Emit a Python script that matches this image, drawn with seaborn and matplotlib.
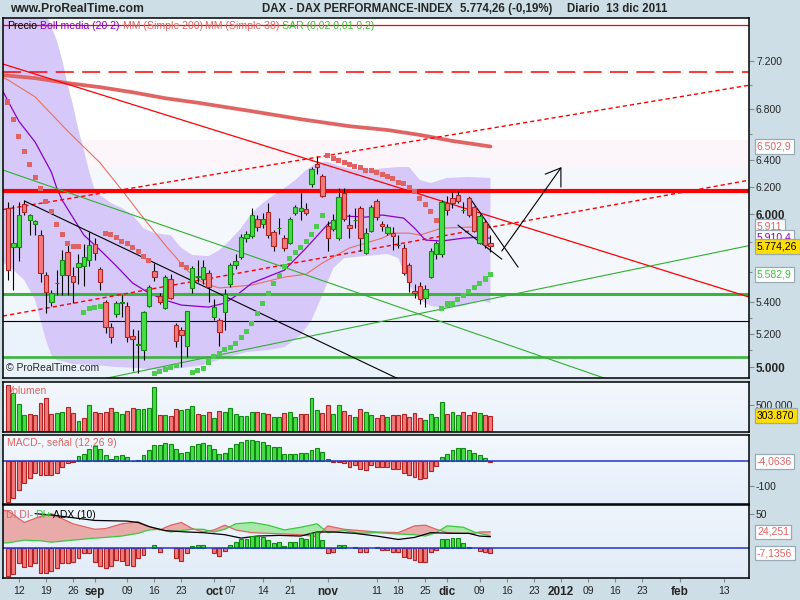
import numpy as np
import pandas as pd
import matplotlib
matplotlib.use("Agg")
import matplotlib.pyplot as plt
import matplotlib.transforms as mtransforms
from matplotlib.patches import Rectangle
from matplotlib.colors import LinearSegmentedColormap
from matplotlib.ticker import FixedLocator, NullFormatter
import seaborn as sns

sns.set_style("white")
plt.rcParams["font.family"] = ["Liberation Sans", "DejaVu Sans"]
plt.rcParams["lines.scale_dashes"] = False

# ---------------------------------------------------------------
# Daily DAX bars: index 0 = 10 ago 2011 ... 89 = 13 dic 2011
# ---------------------------------------------------------------
opens = [6040, 5770, 5770, 6070, 5960, 5930, 5851, 5580, 5403, 5525,
         5579, 5735, 5570, 5633, 5640, 5680, 5790, 5620, 5400, 5245,
         5325, 5398, 5375, 5190, 5130, 5102, 5378, 5605, 5440, 5365,
         5555, 5256, 5225, 5126, 5494, 5568, 5555, 5590, 5307, 5288,
         5340, 5520, 5646, 5700, 5830, 5844, 5964, 5928, 6015, 5875,
         5898, 5830, 5796, 6008, 6022, 6036, 6218, 6368, 6278, 5914,
         5893, 5830, 6152, 5921, 5955, 6043, 5728, 5880, 6093, 5928,
         5865, 5865, 5780, 5762, 5646, 5475, 5506, 5430, 5565, 5721,
         5721, 6079, 6115, 6137, 6028, 6115, 6050, 5796, 5943, 5796]
highs = [6090, 6065, 6090, 6100, 6000, 5960, 5887, 5600, 5480, 5612,
         5748, 5800, 5630, 5720, 5790, 5870, 5830, 5630, 5415, 5270,
         5410, 5450, 5400, 5230, 5225, 5345, 5513, 5660, 5460, 5580,
         5585, 5270, 5245, 5345, 5640, 5680, 5680, 5610, 5420, 5300,
         5490, 5660, 5720, 5860, 5880, 6043, 5990, 6008, 6079, 5890,
         5971, 5850, 5980, 6065, 6152, 6080, 6345, 6430, 6290, 5950,
         6000, 6189, 6190, 6000, 6040, 6060, 5900, 6065, 6110, 5950,
         5930, 5910, 5850, 5790, 5660, 5520, 5530, 5513, 5760, 5810,
         6100, 6130, 6160, 6170, 6090, 6122, 6060, 6000, 5960, 5851]
lows = [5546, 5481, 5673, 5990, 5851, 5851, 5530, 5330, 5380, 5448,
        5448, 5448, 5396, 5520, 5510, 5640, 5680, 5481, 5205, 5145,
        5310, 5310, 5150, 4975, 4965, 5042, 5370, 5540, 5390, 5360,
        5420, 5120, 5000, 5060, 5460, 5530, 5520, 5400, 5290, 5125,
        5225, 5500, 5620, 5690, 5800, 5830, 5880, 5900, 5830, 5740,
        5860, 5740, 5790, 5990, 5957, 5990, 6200, 6290, 6120, 5740,
        5880, 5820, 5950, 5830, 5900, 5740, 5720, 5870, 5960, 5880,
        5850, 5750, 5760, 5580, 5470, 5430, 5390, 5370, 5560, 5690,
        5700, 5990, 6040, 6080, 6010, 5980, 5870, 5790, 5760, 5734]
closes = [5612, 5797, 5993, 6015, 5993, 5950, 5590, 5470, 5460, 5528,
          5680, 5579, 5533, 5660, 5700, 5782, 5728, 5533, 5245, 5180,
          5395, 5402, 5180, 5170, 5140, 5340, 5500, 5567, 5405, 5565,
          5430, 5160, 5194, 5345, 5625, 5572, 5633, 5500, 5370, 5212,
          5455, 5646, 5673, 5840, 5858, 5993, 5910, 5964, 5851, 5775,
          5902, 5762, 5964, 6050, 6043, 6008, 6330, 6345, 6130, 5830,
          5957, 6122, 5964, 5900, 5960, 5830, 5865, 6050, 5978, 5914,
          5907, 5844, 5784, 5590, 5533, 5462, 5422, 5488, 5741, 5796,
          6086, 6029, 6079, 6093, 6032, 5993, 5880, 5986, 5782, 5774.26]

# Parabolic SAR (0,02 0,01 0,2)
sar = [6857, 6719, 6584, 6467, 6362, 6264, 6182, 6093, 6015, 5928,
       5858, 5796, 5775, 5775, 5338, 5358, 5370, 5377, 5865, 5858,
       5837, 5810, 5796, 5768, 5741, 5707, 5680, 4964, 4976, 4988,
       5000, 5012, 5653, 5632, 4970, 4982, 4994, 5030, 5066, 5084,
       5108, 5120, 5145, 5182, 5219, 5269, 5332, 5396, 5461, 5526,
       5579, 5639, 5693, 5728, 5768, 5810, 5858, 5914, 5986, 6437,
       6414, 6392, 6377, 6362, 6347, 6339, 6323, 6316, 6301, 6286,
       6271, 6256, 6233, 6219, 6196, 6160, 6115, 6072, 6015, 5957,
       5364, 5390, 5396, 5422, 5448, 5474, 5500, 5526, 5553, 5582.9]

# Bollinger (20 2): upper, lower and middle line
boll_up_idx = [-1, 0, 4, 7, 8, 9, 10, 11, 12, 13, 14, 15, 16, 17, 19, 21, 23, 25,
               27, 30, 32, 34, 37, 39, 41, 43, 45, 47, 49, 51, 53, 55, 57, 59,
               61, 64, 68, 72, 74, 76, 78, 81, 85, 89]
boll_up = [8500, 8400, 8100, 7620, 7500, 7380, 7210, 7000, 6830, 6632, 6475, 6308,
           6174, 6137, 6079, 6043, 5993, 5900, 5865, 5851, 5762, 5714, 5707, 5748,
           5817, 5900, 6008, 6079, 6137, 6189, 6248, 6323, 6377, 6385, 6354, 6323,
           6331, 6346, 6346, 6248, 6226, 6264, 6271, 6264]
boll_lo_idx = [-1, 0, 3, 5, 6, 7, 8, 9, 12, 16, 20, 24, 28, 32, 36, 40, 44, 48, 51,
               54, 56, 58, 60, 62, 66, 70, 72, 74, 76, 78, 81, 84, 87, 89]
boll_lo = [5660, 5646, 5546, 5415, 5288, 5163, 5072, 5042, 5018, 5012, 5000, 4994,
           4982, 4994, 5012, 5054, 5090, 5102, 5120, 5194, 5288, 5448, 5626, 5693,
           5707, 5721, 5693, 5513, 5415, 5377, 5364, 5377, 5415, 5396]
boll_mid_idx = [-1, 0, 2, 5, 8, 9, 10, 14, 17, 20, 23, 26, 29, 32, 37, 40, 42, 45,
                51, 55, 59, 62, 66, 69, 73, 75, 77, 80, 84, 87, 89]
boll_mid = [6950, 6865, 6702, 6538, 6308, 6189, 6100, 5851, 5748, 5639, 5526, 5461,
            5415, 5383, 5370, 5396, 5442, 5526, 5612, 5762, 5928, 5986, 5978, 5993,
            5971, 5900, 5817, 5810, 5830, 5837, 5830]

# Moving averages
ma38_idx = [-1, 0, 5, 11, 17, 21, 25, 29, 33, 36, 39, 45, 51, 55, 58, 63, 69, 71,
            74, 76, 80, 85, 89]
ma38 = [7060, 7040, 6899, 6624, 6377, 6174, 5971, 5782, 5612, 5526, 5494, 5513,
        5566, 5585, 5660, 5762, 5830, 5865, 5865, 5851, 5900, 5907, 5911]
ma200_idx = [-1, 0, 5, 11, 17, 23, 29, 35, 45, 54, 63, 70, 76, 82, 89]
ma200 = [7080, 7076, 7055, 7013, 6979, 6937, 6888, 6851, 6782, 6718, 6662, 6632,
         6593, 6546, 6502.9]

# Hand drawn support / resistance levels and trend lines (day, price anchors)
level_red_thick = 6170
level_red_dash = 7104
level_red_top = 7516
level_green_thick = 5455
level_green_low = 5062
level_black = 5281
trend_red = [(0, 7161), (130, 5509)]
trend_red_dash_hi = [(0, 6038), (130, 6945)]
trend_red_dash_lo = [(0, 5319), (130, 6198)]
trend_green_down = [(0, 6310), (100, 5046)]
trend_green_up = [(20, 4946), (130, 5727)]
trend_black = [(3.1, 6093), (72, 4930)]
sketch_lines = [[(85.1, 6122), (94.1, 5632)],
                [(83.0, 5921), (91.1, 5686)]]
sketch_arrow = [(91.1, 5741), (102.0, 6339)]
sketch_head = [(99.1, 6292), (102.0, 6339), (102.0, 6196)]

# Volume (shares) and bar colour as shown
volumes_k = [875, 722, 518, 320, 333, 320, 537, 629, 333, 352,
             370, 463, 352, 209, 259, 492, 370, 352, 370, 444,
             370, 333, 394, 444, 426, 426, 444, 833, 307, 307,
             289, 431, 413, 426, 474, 333, 320, 370, 259, 394,
             370, 444, 333, 300, 300, 370, 370, 352, 333, 285,
             285, 352, 370, 285, 333, 333, 629, 413, 352, 492,
             333, 492, 394, 320, 285, 426, 370, 320, 259, 307,
             285, 307, 307, 333, 278, 352, 259, 228, 333, 278,
             555, 333, 370, 307, 370, 320, 370, 352, 320, 303.87]
vol_dir = ("rgggrrrrrg" "grrgrgrrrr" "ggrrggggrg" "rrgggrgrgr" "ggggggrgrg"
           "grggrrggrr" "ggrrgrggrr" "grrrrrrggg" "grggrrrgrr")

# MACD (12,26 9)
macd = [-164, -148, -117, -90, -68, -47, -55, -57, -57, -47,
        -24, -10, -4, 19, 29, 47, 59, 47, 25, 9,
        19, 23, 15, 1, 5, 23, 43, 63, 63, 73,
        69, 47, 33, 36, 59, 67, 72, 65, 47, 29,
        33, 52, 69, 76, 85, 85, 79, 76, 63, 56,
        56, 29, 29, 29, 32, 32, 43, 52, 36, 9,
        -6, -6, -10, -24, -17, -33, -36, -17, -24, -24,
        -24, -31, -33, -47, -55, -64, -71, -68, -41, -21,
        14, 29, 43, 52, 52, 43, 33, 25, 11, -4.0636]

# DMI (10): DI+ minus DI- histogram, DI lines and ADX
dmi_hist = [-40.7, -37.8, -22, -27, -26, -21, -36, -37, -34, -29,
            -22, -22, -20, -15, -7, -7, -20, -26, -29, -26,
            -17, -18, -25, -26, -15, -10, 0, 5, -5, 0,
            0, -15, -18, -7, 3, 5, 5, 0, -7, -11,
            -4, 5, 10, 13, 13, 18, 18, 17, 12, 8,
            10, 3, 10, 10, 15, 13, 22, 24, 12, -7,
            -5, 5, 5, 0, 2, -5, -6, 0, 2, -3,
            -3, -6, -6, -13, -15, -17, -20, -20, -6, -3,
            13, 13, 15, 15, 8, 2, 0, -4, -5, -7.1356]
di_idx = [-1, 0, 3, 6, 8, 12, 16, 18, 21, 24, 26, 28, 30, 32, 34, 36, 38, 40, 42,
          45, 48, 51, 54, 57, 59, 62, 65, 68, 72, 75, 77, 79, 81, 84, 86, 87, 89]
di_minus = [56, 55, 38, 47, 51, 36, 28, 29, 36, 39, 32, 27, 34, 38, 29, 24, 27, 34,
            27, 23, 22, 21, 20, 17, 33, 28, 26, 24, 23, 33, 34, 28, 23, 22, 22, 24,
            24.251]
di_plus = [8, 8, 12, 11, 9, 12, 15, 16, 18, 22, 27, 28, 24, 26, 28, 28, 24, 28, 36,
           38, 34, 27, 31, 36, 23, 26, 22, 23, 21, 20, 18, 23, 33, 31, 24, 22, 18]
adx_idx = [5, 8, 16, 22, 24, 26, 29, 33, 36, 40, 43, 46, 50, 54, 57, 60, 64, 68, 72,
           75, 78, 82, 85, 87, 89]
adx = [51, 49, 41, 40, 38, 32, 26, 24, 23, 20, 15, 18, 19, 18, 24, 24, 22, 18, 13,
       16, 23, 22, 22, 18, 17]

# Date axis (trading-day index of each label)
tick_pos = [2, 7, 12, 16, 22, 27, 32, 38, 41, 47, 52, 59, 68, 72, 77, 81, 87, 92,
            97, 102, 107, 112, 117, 124, 132]
tick_lab = ["12", "19", "26", "sep", "09", "16", "23", "oct", "07", "14", "21",
            "nov", "11", "18", "25", "dic", "09", "16", "23", "2012", "09", "16",
            "23", "feb", "13"]
month_lab = {"sep", "oct", "nov", "dic", "2012", "feb"}

# ---------------------------------------------------------------
BG = "#cddee6"
RED, RED_E = "#f27a7a", "#b02424"
GRN, GRN_E = "#46de46", "#128a12"
SALMON = "#e06464"
PURPLE = "#8a00c8"
W, H = 800, 600
XMIN, XMAX = -0.92, 136.7

df = pd.DataFrame({"open": opens, "high": highs, "low": lows, "close": closes,
                   "sar": sar, "vol": np.array(volumes_k) * 1000,
                   "macd": macd, "dmi": dmi_hist})
df["day"] = np.arange(len(df))
up = df["close"] >= df["open"]

fig = plt.figure(figsize=(W / 100, H / 100), dpi=100, facecolor=BG)


def add_panel(top, bottom):
    ax = fig.add_axes([3 / W, 1 - bottom / H, 746 / W, (bottom - top) / H])
    for s in ax.spines.values():
        s.set_color("black")
        s.set_linewidth(1.1)
        s.set_zorder(20)
    ax.yaxis.tick_right()
    ax.tick_params(axis="y", which="both", direction="out", length=3.5, width=0.8,
                   color="#7d8e98", labelsize=7.5, pad=1.5, left=False, right=True)
    ax.tick_params(axis="x", bottom=False, labelbottom=False)
    return ax


def gradient(ax, top, bottom):
    cmap = LinearSegmentedColormap.from_list("g", [bottom, top])
    ax.imshow(np.linspace(0, 1, 50).reshape(-1, 1), cmap=cmap, extent=[0, 1, 0, 1],
              origin="lower", transform=ax.transAxes, aspect="auto", zorder=0,
              interpolation="bilinear")


def value_box(ax, y, text, color, face="white"):
    tr = mtransforms.blended_transform_factory(ax.transAxes, ax.transData)
    ax.text(1.0107, y, text, transform=tr, color=color, fontsize=7.5, va="center",
            ha="left", clip_on=False, zorder=30,
            bbox=dict(boxstyle="square,pad=0.22", fc=face, ec="#98abb5", lw=0.9))


ax_p = add_panel(18, 378)
ax_v = add_panel(382, 432)
ax_m = add_panel(435, 504)
ax_a = add_panel(505, 578)

# ---------------- price panel ----------------
ax_p.set_yscale("log")
for y0, y1, col in [(0.661, 1.0, "#ffffff"), (0.586, 0.661, "#fcf5fa"),
                    (0.236, 0.586, "#f4f8fd"), (0.158, 0.236, "#f0f6fc"),
                    (0.0, 0.158, "#eaf2fb")]:
    ax_p.add_patch(Rectangle((0, y0), 1, y1 - y0, transform=ax_p.transAxes,
                             color=col, lw=0, zorder=0))

ax_p.fill(np.r_[boll_up_idx, boll_lo_idx[::-1]], np.r_[boll_up, boll_lo[::-1]],
          color="#d6c8f9", lw=0, zorder=1)

# horizontal levels
ax_p.axhline(level_red_top, color="#ff0000", lw=0.9, zorder=6)
ax_p.axhline(level_red_dash, color="#ff0000", lw=1.1, dashes=(13, 6), zorder=6)
ax_p.axhline(level_red_thick, color="#ff0000", lw=3.0, zorder=6)
ax_p.axhline(level_green_thick, color="#3cb43c", lw=2.2, zorder=6)
ax_p.axhline(level_green_low, color="#3cb43c", lw=1.9, zorder=6)
ax_p.axhline(level_black, color="black", lw=0.8, zorder=6)

# trend lines
ax_p.axline(*trend_red, color="#ff0000", lw=0.9, zorder=6)
ax_p.axline(*trend_red_dash_hi, color="#ff0000", lw=1.0, dashes=(3, 2.2), zorder=6)
ax_p.axline(*trend_red_dash_lo, color="#ff0000", lw=1.0, dashes=(3, 2.2), zorder=6)
ax_p.axline(*trend_green_down, color="#30b030", lw=0.8, zorder=6)
ax_p.axline(*trend_green_up, color="#30b030", lw=0.8, zorder=6)
for seg in [trend_black] + sketch_lines + [sketch_arrow, sketch_head]:
    xs, ys = zip(*seg)
    ax_p.plot(xs, ys, color="black", lw=0.8, zorder=7)

# moving averages and Bollinger middle
sns.lineplot(x=ma200_idx, y=ma200, ax=ax_p, color=SALMON, lw=2.7, zorder=4)
sns.lineplot(x=ma38_idx, y=ma38, ax=ax_p, color="#e87060", lw=0.8, zorder=4)
sns.lineplot(x=boll_mid_idx, y=boll_mid, ax=ax_p, color=PURPLE, lw=0.9, zorder=4)

# candles
ax_p.vlines(df["day"], df["low"], df["high"], color="black", lw=0.8, zorder=8)
body_lo = df[["open", "close"]].min(axis=1)
body_h = (df["close"] - df["open"]).abs().clip(lower=2)
ax_p.bar(df["day"], body_h, bottom=body_lo, width=0.8,
         color=np.where(up, GRN, RED), edgecolor=np.where(up, GRN_E, RED_E),
         lw=0.8, zorder=9)

# SAR
df["sar_side"] = np.where(df["sar"] > df["close"], "above", "below")
sns.scatterplot(data=df, x="day", y="sar", hue="sar_side", ax=ax_p, marker="s",
                s=13, linewidth=0, legend=False, zorder=10,
                palette={"above": "#e06262", "below": "#4ccc4c"})

ax_p.set_xlim(XMIN, XMAX)
ax_p.set_ylim(4935, 7579)
ax_p.set_xlabel("")
ax_p.set_ylabel("")
ax_p.set_yticks([5000, 5200, 5400, 6000, 6200, 6400, 6800, 7200],
                ["5.000", "5.200", "5.400", "6.000", "6.200", "6.400", "6.800", "7.200"])
ax_p.yaxis.set_minor_locator(FixedLocator([5100, 5300, 5600, 5800, 6600, 7000]))
ax_p.yaxis.set_minor_formatter(NullFormatter())
ax_p.tick_params(axis="y", which="minor", length=2.5)
ax_p.tick_params(axis="x", which="both", bottom=False, labelbottom=False)
for lab in ax_p.get_yticklabels():
    if lab.get_text() in ("6.000", "5.000"):
        lab.set_fontweight("bold")
        lab.set_fontsize(8.5)

value_box(ax_p, 6502.9, "6.502,9", SALMON)
value_box(ax_p, 5911, "5.911", SALMON)
value_box(ax_p, 5837, "5.910,4", PURPLE)
value_box(ax_p, 5774.26, "5.774,26", "black", face="#ffde00")
value_box(ax_p, 5582.9, "5.582,9", "#3cc03c")

ax_p.text(0.004, 0.013, "© ProRealTime.com", transform=ax_p.transAxes, fontsize=7.5,
          va="bottom", ha="left", zorder=25)

# ---------------- volume ----------------
gradient(ax_v, "#f4f8fd", "#e9f1fa")
vcol = np.array([GRN if d == "g" else RED for d in vol_dir])
vedge = np.array([GRN_E if d == "g" else RED_E for d in vol_dir])
ax_v.bar(df["day"], df["vol"], width=0.72, color=vcol, edgecolor=vedge, lw=0.8, zorder=3)
ax_v.set_xlim(XMIN, XMAX)
ax_v.set_ylim(0, 926000)
ax_v.set_yticks([500000], ["500.000"])
ax_v.text(0.005, 0.83, "Volumen", transform=ax_v.transAxes, color=SALMON,
          fontsize=7.5, va="center", ha="left", zorder=25)
value_box(ax_v, 303870, "303.870", "black", face="#ffde00")

# ---------------- MACD ----------------
gradient(ax_m, "#f3f8fd", "#e4eefa")
mpos = df["macd"] >= 0
ax_m.bar(df["day"], df["macd"], width=0.72, color=np.where(mpos, GRN, RED),
         edgecolor=np.where(mpos, GRN_E, RED_E), lw=0.8, zorder=3)
ax_m.axhline(0, color="#2233cc", lw=1.1, zorder=4)
ax_m.set_xlim(XMIN, XMAX)
ax_m.set_ylim(-173, 103)
ax_m.set_yticks([-100], ["-100"])
ax_m.text(0.005, 0.88, "MACD-, señal (12,26 9)", transform=ax_m.transAxes,
          color=SALMON, fontsize=7.5, va="center", ha="left", zorder=25)
value_box(ax_m, -4.0636, "-4,0636", SALMON)

# ---------------- DMI / ADX ----------------
gradient(ax_a, "#eef5fc", "#e2ecf8")
dm, dp = np.array(di_minus), np.array(di_plus)
ax_a.fill_between(di_idx, dm, dp, where=dm >= dp, interpolate=True,
                  color="#e9aaaa", lw=0, zorder=2)
ax_a.fill_between(di_idx, dm, dp, where=dp > dm, interpolate=True,
                  color="#a8e8a8", lw=0, zorder=2)
sns.lineplot(x=di_idx, y=di_minus, ax=ax_a, color=SALMON, lw=0.9, zorder=3)
sns.lineplot(x=di_idx, y=di_plus, ax=ax_a, color="#3cc83c", lw=0.9, zorder=3)
sns.lineplot(x=adx_idx, y=adx, ax=ax_a, color="black", lw=0.9, zorder=4)
hist = df[df["dmi"] != 0]
hpos = hist["dmi"] > 0
ax_a.bar(hist["day"], hist["dmi"], width=0.72, color=np.where(hpos, GRN, RED),
         edgecolor=np.where(hpos, GRN_E, RED_E), lw=0.8, zorder=5)
ax_a.axhline(0, color="#2233cc", lw=1.1, zorder=6)
ax_a.set_xlim(XMIN, XMAX)
ax_a.set_ylim(-43.7, 63.7)
ax_a.set_xlabel("")
ax_a.set_ylabel("")
ax_a.set_yticks([50], ["50"])
for x0, txt, col in [(0.004, "DI DI-", SALMON), (0.043, "DI+", "#3cc83c"),
                     (0.067, "ADX (10)", "black")]:
    ax_a.text(x0, 0.86, txt, transform=ax_a.transAxes, color=col, fontsize=7.5,
              va="center", ha="left", zorder=25)
value_box(ax_a, 24.251, "24,251", SALMON)
value_box(ax_a, -7.1356, "-7,1356", SALMON)

ax_a.set_xticks(tick_pos, tick_lab)
ax_a.tick_params(axis="x", bottom=True, labelbottom=True, length=3, width=0.8,
                 color="#7d8e98", labelsize=7.5, pad=2.5, direction="out")
for lab in ax_a.get_xticklabels():
    if lab.get_text() in month_lab:
        lab.set_fontweight("bold")
        lab.set_fontsize(8.5)

for ax in (ax_p, ax_v, ax_m):
    ax.set_xlabel("")
    ax.set_ylabel("")

# ---------------- header ----------------
ty = 1 - 9 / H
fig.text(10 / W, ty, "www.ProRealTime.com", fontsize=8.7, fontweight="bold", va="center")
fig.text(262 / W, ty, "DAX - DAX PERFORMANCE-INDEX", fontsize=8.3, fontweight="bold", va="center")
fig.text(460 / W, ty, "5.774,26 (-0,19%)", fontsize=8.3, fontweight="bold", va="center")
fig.text(567 / W, ty, "Diario  13 dic 2011", fontsize=8.3, fontweight="bold", va="center")

leg_y = 1 - 26 / H
for x0, txt, col in [(7, "Precio", "black"), (40, "Boll media (20 2)", PURPLE),
                     (123, "MM (Simple 200)", SALMON), (205, "MM (Simple 38)", SALMON),
                     (282, "SAR (0,02 0,01 0,2)", "#3cc03c")]:
    fig.text(x0 / W, leg_y, txt, color=col, fontsize=7.6, va="center", zorder=30)

fig.savefig("out.png", dpi=100, facecolor=BG)
